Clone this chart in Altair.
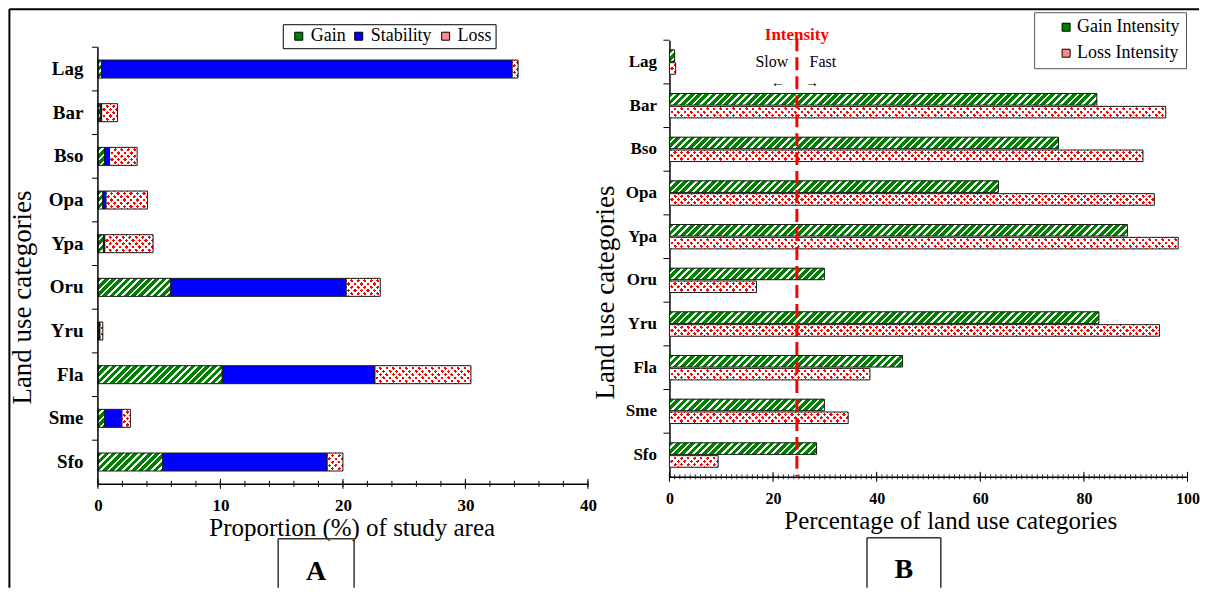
import math
import altair as alt
import pandas as pd

# ---------------- data ----------------
CATS = ["Lag", "Bar", "Bso", "Opa", "Ypa", "Oru", "Yru", "Fla", "Sme", "Sfo"]
TYPES_A = ["Gain", "Stability", "Loss"]
GAIN_A = [0.3, 0.2, 0.55, 0.4, 0.45, 5.95, 0.1, 10.15, 0.55, 5.3]
STAB_A = [33.5, 0.1, 0.4, 0.25, 0.1, 14.3, 0.05, 12.45, 1.4, 13.4]
LOSS_A = [0.5, 1.3, 2.25, 3.4, 3.95, 2.8, 0.25, 7.85, 0.7, 1.3]

TYPES_B = ["Gain Intensity", "Loss Intensity"]
GAIN_B = [1.0, 82.5, 75.1, 63.5, 88.4, 29.9, 82.9, 45.0, 29.9, 28.4]
LOSS_B = [1.2, 95.8, 91.4, 93.6, 98.2, 16.8, 94.6, 38.7, 34.5, 9.4]
INTENSITY = 24.6

A_TICKS = [0, 10, 20, 30, 40]
A_MINOR = list(range(0, 41, 2))
B_TICKS = [0, 20, 40, 60, 80, 100]
B_MINOR = list(range(0, 101, 1))

# ---------------- style ----------------
SERIF = "Liberation Serif"
GREEN = "#008000"
BLUE = "#0000ff"
RED = "#ff0000"
PINK = "#ff8a8a"
WHITE = "#ffffff"
CLEAR = "rgba(255,255,255,0)"

WA, HA = 490.4, 444
WB, HB = 518.5, 437
STEP = 43.7
PO_A = (HA / STEP - 10) / 2
BAR_A = 18
SUB_PI, SUB_PO = 0.1, 0.75
SUB = STEP / (2 - SUB_PI + 2 * SUB_PO)
BAR_B = SUB * (1 - SUB_PI)

STRIPE_P = 5.1
DOT_P = 4.6
DOT_W = 2.4
GAIN_SEGS = [(0, 0.64, GREEN), (0.64, 1.0, WHITE)]
RED_SEGS = [(0, DOT_W / DOT_P, RED), (DOT_W / DOT_P, 1.0, WHITE)]
MASK_SEGS = [(0, DOT_W / DOT_P, CLEAR), (DOT_W / DOT_P, 1.0, WHITE)]


def stops_for(n, segs):
    stops = []
    k = 0
    while k < n:
        for s0, s1, col in segs:
            o0 = min(1.0, (k + s0) / n)
            o1 = min(1.0, (k + s1) / n)
            stops.append({"offset": round(o0, 5), "color": col})
            stops.append({"offset": round(o1, 5), "color": col})
        k += 1
    return stops


def hatch(w, h, p, segs, direction):
    c = (1 / h + 1 / w) / (1 / h ** 2 + 1 / w ** 2)
    n = (w + h) / (math.sqrt(2) * p)
    if direction == "/":
        x1, y1, x2, y2 = 0, 0, c / h, c / w
    else:
        x1, y1, x2, y2 = 0, 1, c / h, 1 - c / w
    return {"gradient": "linear", "x1": x1, "y1": y1, "x2": x2, "y2": y2,
            "stops": stops_for(n, segs)}


one = pd.DataFrame({"k": [0]})


def vrule(x, y, y2, color="black", w=1.5):
    return alt.Chart(one).mark_rule(color=color, strokeWidth=w).encode(
        x=alt.value(x), y=alt.value(y), y2=alt.value(y2))


def hrule(x, x2, y, color="black", w=1.5):
    return alt.Chart(one).mark_rule(color=color, strokeWidth=w).encode(
        x=alt.value(x), x2=alt.value(x2), y=alt.value(y))


def label(txt, x, y, size, weight="bold", color="black"):
    return alt.Chart(pd.DataFrame({"t": [txt]})).mark_text(
        font=SERIF, fontSize=size, fontWeight=weight, color=color,
        baseline="middle", align="center").encode(
        text="t:N", x=alt.value(x), y=alt.value(y))


# ---------------- panel A ----------------
rows = []
for c, g, s, l in zip(CATS, GAIN_A, STAB_A, LOSS_A):
    rows.append(dict(cat=c, type="Gain", start=0.0, end=g))
    rows.append(dict(cat=c, type="Stability", start=g, end=g + s))
    rows.append(dict(cat=c, type="Loss", start=g + s, end=g + s + l))
df_a = pd.DataFrame(rows)

xa = alt.Scale(domain=[0, 40], nice=False)
ya = alt.Scale(domain=CATS, paddingInner=0, paddingOuter=PO_A, align=1)
TITLE_AX = "Proportion (%) of study area"
TITLE_Y = "Land use categories"
AXIS_AX = alt.Axis(values=A_TICKS, format="d", ticks=False, tickSize=0,
                   grid=False, labelFlush=False, labelFont=SERIF,
                   labelFontWeight="bold", labelFontSize=17,
                   labelBaseline="middle", labelPadding=22,
                   domainColor="black", domainWidth=1.5,
                   titleFont=SERIF, titleFontSize=25,
                   titleFontWeight="normal", titleX=254, titleY=44,
                   titleBaseline="middle")
AXIS_AY = alt.Axis(domain=False, ticks=False, tickSize=0, grid=False,
                   labelFont=SERIF, labelFontWeight="bold",
                   labelFontSize=19, labelPadding=15,
                   titleFont=SERIF, titleFontSize=27,
                   titleFontWeight="normal", titleAngle=270,
                   titleX=-75.5, titleY=257, titleBaseline="middle")


def XA(field):
    return alt.X(field, scale=xa, axis=AXIS_AX, title=TITLE_AX)


def YA():
    return alt.Y("cat:N", scale=ya, sort=CATS, axis=AXIS_AY, title=TITLE_Y)


base_a = alt.Chart().mark_bar(size=BAR_A).encode(
    x=XA("start:Q"), x2="end:Q", y=YA(),
    color=alt.Color("type:N", scale=alt.Scale(domain=TYPES_A,
                                              range=[GREEN, BLUE, PINK]),
                    legend=alt.Legend(title=None, orient="none", legendX=185,
                                      legendY=-16, direction="horizontal",
                                      symbolType="square", symbolSize=64,
                                      symbolStrokeColor="black",
                                      symbolStrokeWidth=1, labelFont=SERIF,
                                      labelFontSize=18, labelColor="black",
                                      labelOffset=3, columnPadding=0,
                                      symbolOffset=4, padding=3,
                                      strokeColor="black", fillColor="white")),
)

pat_a = []
for c, g, s, l in zip(CATS, GAIN_A, STAB_A, LOSS_A):
    wg = g * WA / 40
    wl = l * WA / 40
    if wg >= 1:
        pat_a.append(alt.Chart().mark_bar(
            size=BAR_A, fill=hatch(wg, BAR_A, STRIPE_P, GAIN_SEGS, "/")
        ).encode(x=XA("start:Q"), x2="end:Q", y=YA()).transform_filter(
            f"datum.cat === '{c}' && datum.type === 'Gain'"))
    if wl >= 1:
        flt = f"datum.cat === '{c}' && datum.type === 'Loss'"
        pat_a.append(alt.Chart().mark_bar(
            size=BAR_A, fill=hatch(wl, BAR_A, DOT_P, RED_SEGS, "/")
        ).encode(x=XA("start:Q"), x2="end:Q", y=YA()).transform_filter(flt))
        pat_a.append(alt.Chart().mark_bar(
            size=BAR_A, fill=hatch(wl, BAR_A, DOT_P, MASK_SEGS, "\\")
        ).encode(x=XA("start:Q"), x2="end:Q", y=YA()).transform_filter(flt))

outline_a = alt.Chart().mark_bar(size=BAR_A, fillOpacity=0, stroke="#1a1a1a",
                                 strokeWidth=1).encode(
    x=XA("start:Q"), x2="end:Q", y=YA())

ytick_a = alt.Chart(pd.DataFrame({"cat": CATS})).mark_rule(
    color="black", strokeWidth=1, yOffset=-STEP / 2).encode(
    y=YA(), x=alt.value(-6), x2=alt.value(0))

major_a = alt.Chart(pd.DataFrame({"start": A_TICKS})).mark_rule(
    color="black", strokeWidth=1).encode(
    x=XA("start:Q"), y=alt.value(HA - 5), y2=alt.value(HA + 5))
minor_a = alt.Chart(pd.DataFrame({"start": A_MINOR})).mark_rule(
    color="black", strokeWidth=1).encode(
    x=XA("start:Q"), y=alt.value(HA - 3), y2=alt.value(HA + 3))

deco_a = [
    vrule(0, HA - 10 * STEP, HA, w=1.5),
    vrule(-88.6, -31, 548, w=2),
    hrule(-88.6, 1102, -31, w=2),
    vrule(180.4, 499, 548, color="#333"),
    vrule(256.4, 499, 548, color="#333"),
    hrule(180.4, 256.4, 499, color="#333"),
    label("A", 218.4, 532, 28),
]

panel_a = alt.layer(base_a, *pat_a, outline_a, ytick_a, major_a, minor_a,
                    *deco_a, data=df_a).properties(width=WA, height=HA)

# ---------------- panel B ----------------
rows = []
for c, g, l in zip(CATS, GAIN_B, LOSS_B):
    rows.append(dict(cat=c, type2="Gain Intensity", value=g))
    rows.append(dict(cat=c, type2="Loss Intensity", value=l))
df_b = pd.DataFrame(rows)

xb = alt.Scale(domain=[0, 100], nice=False)
yb = alt.Scale(domain=CATS, paddingInner=0, paddingOuter=0)
yob = alt.Scale(domain=TYPES_B, paddingInner=SUB_PI, paddingOuter=SUB_PO)
TITLE_BX = "Percentage of land use categories"
AXIS_BX = alt.Axis(values=B_TICKS, format="d", ticks=False, tickSize=0,
                   grid=False, labelFlush=False, labelFont=SERIF,
                   labelFontWeight="bold", labelFontSize=16,
                   labelBaseline="middle", labelPadding=22,
                   domainColor="black", domainWidth=1.5,
                   titleFont=SERIF, titleFontSize=25,
                   titleFontWeight="normal", titleX=281, titleY=44,
                   titleBaseline="middle")
AXIS_BY = alt.Axis(domain=True, domainColor="black", domainWidth=1.5,
                   ticks=False, tickSize=0, grid=False,
                   labelFont=SERIF, labelFontWeight="bold",
                   labelFontSize=17, labelPadding=13,
                   titleFont=SERIF, titleFontSize=27,
                   titleFontWeight="normal", titleAngle=270,
                   titleX=-64, titleY=252, titleBaseline="middle")


def XB(field):
    return alt.X(field, scale=xb, axis=AXIS_BX, title=TITLE_BX)


def YB():
    return alt.Y("cat:N", scale=yb, sort=CATS, axis=AXIS_BY, title=TITLE_Y)


def YOB():
    return alt.YOffset("type2:N", scale=yob, sort=TYPES_B)


base_b = alt.Chart().mark_bar().encode(
    x=XB("value:Q"), y=YB(), yOffset=YOB(),
    color=alt.Color("type2:N", scale=alt.Scale(domain=TYPES_B,
                                               range=[GREEN, PINK]),
                    legend=alt.Legend(title=None, orient="none", legendX=365,
                                      legendY=-28, direction="vertical",
                                      symbolType="square", symbolSize=64,
                                      symbolStrokeColor="black",
                                      symbolStrokeWidth=1, labelFont=SERIF,
                                      labelFontSize=18, labelColor="black",
                                      labelOffset=2, rowPadding=8,
                                      symbolOffset=17, padding=6,
                                      strokeColor="#555", fillColor="white")),
)

pat_b = []
for c, g, l in zip(CATS, GAIN_B, LOSS_B):
    wg = g * WB / 100
    wl = l * WB / 100
    if wg >= 1:
        pat_b.append(alt.Chart().mark_bar(
            fill=hatch(wg, BAR_B, STRIPE_P, GAIN_SEGS, "/")
        ).encode(x=XB("value:Q"), y=YB(), yOffset=YOB()).transform_filter(
            f"datum.cat === '{c}' && datum.type2 === 'Gain Intensity'"))
    if wl >= 1:
        flt = f"datum.cat === '{c}' && datum.type2 === 'Loss Intensity'"
        pat_b.append(alt.Chart().mark_bar(
            fill=hatch(wl, BAR_B, DOT_P, RED_SEGS, "/")
        ).encode(x=XB("value:Q"), y=YB(), yOffset=YOB()).transform_filter(flt))
        pat_b.append(alt.Chart().mark_bar(
            fill=hatch(wl, BAR_B, DOT_P, MASK_SEGS, "\\")
        ).encode(x=XB("value:Q"), y=YB(), yOffset=YOB()).transform_filter(flt))

outline_b = alt.Chart().mark_bar(fillOpacity=0, stroke="#1a1a1a",
                                 strokeWidth=1).encode(
    x=XB("value:Q"), y=YB(), yOffset=YOB())

ytick_b = alt.Chart(pd.DataFrame({"cat": CATS})).mark_rule(
    color="black", strokeWidth=1, yOffset=-STEP / 2).encode(
    y=YB(), x=alt.value(-6), x2=alt.value(0))

major_b = alt.Chart(pd.DataFrame({"value": B_TICKS})).mark_rule(
    color="black", strokeWidth=1).encode(
    x=XB("value:Q"), y=alt.value(HB - 5), y2=alt.value(HB + 5))
minor_b = alt.Chart(pd.DataFrame({"value": B_MINOR})).mark_rule(
    color="black", strokeWidth=0.8).encode(
    x=XB("value:Q"), y=alt.value(HB - 2.5), y2=alt.value(HB + 2.5))

line_df = pd.DataFrame({"value": [INTENSITY]})
dash = alt.Chart(line_df).mark_rule(color=RED, strokeWidth=3,
                                    strokeDash=[13, 6]).encode(
    x=XB("value:Q"), y=alt.value(-2), y2=alt.value(HB))


def line_text(txt, dx, y, size, weight="normal", color="black"):
    return alt.Chart(line_df).mark_text(
        font=SERIF, fontSize=size, fontWeight=weight, color=color,
        baseline="middle", align="center", dx=dx).encode(
        x=XB("value:Q"), y=alt.value(y), text=alt.value(txt))


notes_b = [
    line_text("Intensity", 0, -5, 17, "bold", RED),
    line_text("Slow", -25, 22, 16),
    line_text("Fast", 26, 22, 16),
    line_text("\u2190", -19, 43, 14),
    line_text("\u2192", 15, 43, 14),
]

deco_b = [
    vrule(197.7, 498, 548, color="#333"),
    vrule(271.6, 498, 548, color="#333"),
    hrule(197.7, 271.6, 498, color="#333"),
    label("B", 234.6, 530, 28),
]

panel_b = alt.layer(base_b, *pat_b, outline_b, ytick_b, major_b, minor_b,
                    dash, *notes_b, *deco_b, data=df_b).properties(
    width=WB, height=HB)

chart = alt.hconcat(panel_a, panel_b, spacing=81, bounds="flush").resolve_scale(
    color="independent").properties(padding=0, background="white"
).configure_view(stroke=None).configure_axis(labelColor="black",
                                             titleColor="black")

chart.save("out.html", embed_options={"renderer": "svg", "actions": False})
